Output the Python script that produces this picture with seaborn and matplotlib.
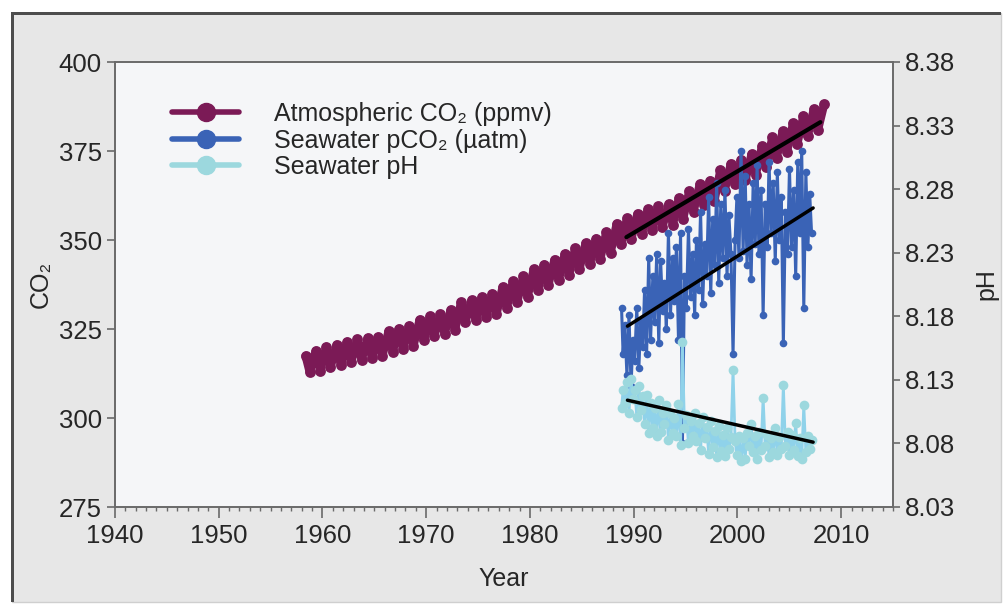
import numpy as np
import pandas as pd
import matplotlib
matplotlib.use("Agg")
import matplotlib.pyplot as plt
import seaborn as sns
from matplotlib.lines import Line2D
from matplotlib.patches import Rectangle
from matplotlib.ticker import MultipleLocator

# ---------------- data ----------------
atm_years = list(range(1958, 2009))
atm_peak = [317.5, 318.9, 320.0, 320.6, 321.4, 322.1, 322.5, 322.8, 324.3, 325.1,
            325.9, 327.6, 328.6, 329.2, 330.4, 332.6, 333.1, 334.0, 334.9, 336.8,
            338.4, 339.8, 341.8, 343.1, 344.5, 346.1, 347.7, 349.1, 350.4, 352.2,
            354.6, 356.1, 357.4, 358.6, 359.5, 360.1, 361.8, 363.8, 365.6, 366.7,
            369.7, 371.4, 372.6, 374.1, 376.3, 378.8, 380.5, 382.8, 384.9, 386.8,
            388.2]
atm_trough = [312.9, 313.3, 314.2, 314.9, 315.7, 316.3, 316.9, 317.4, 318.6, 319.5,
              320.3, 321.8, 322.9, 323.6, 324.7, 326.9, 327.4, 328.3, 329.2, 331.0,
              332.6, 334.0, 336.0, 337.3, 338.7, 340.3, 341.9, 343.3, 344.6, 346.4,
              348.8, 350.3, 351.6, 352.8, 353.7, 354.3, 356.0, 358.0, 359.8, 360.9,
              363.9, 365.6, 366.8, 368.3, 370.5, 373.0, 374.7, 377.0, 379.1, 381.0,
              None]

sea_years = [1988.83, 1988.98, 1989.15, 1989.35, 1989.55, 1989.75, 1989.92,
             1990.10, 1990.30, 1990.50, 1990.68, 1990.88,
             1991.05, 1991.25, 1991.45, 1991.63, 1991.85,
             1992.02, 1992.22, 1992.42, 1992.60, 1992.80, 1992.97,
             1993.15, 1993.35, 1993.55, 1993.75, 1993.93,
             1994.12, 1994.32, 1994.52, 1994.70, 1994.90,
             1995.08, 1995.28, 1995.48, 1995.68, 1995.88,
             1996.05, 1996.25, 1996.45, 1996.65, 1996.85,
             1997.03, 1997.23, 1997.43, 1997.62, 1997.82,
             1998.00, 1998.20, 1998.40, 1998.60, 1998.80,
             1999.00, 1999.18, 1999.38, 1999.58, 1999.78, 1999.95,
             2000.15, 2000.35, 2000.55, 2000.75, 2000.93,
             2001.12, 2001.32, 2001.52, 2001.72, 2001.90,
             2002.08, 2002.28, 2002.48, 2002.68, 2002.88,
             2003.05, 2003.25, 2003.45, 2003.65, 2003.85,
             2004.03, 2004.23, 2004.43, 2004.63, 2004.83,
             2005.02, 2005.22, 2005.42, 2005.62, 2005.82,
             2006.00, 2006.20, 2006.40, 2006.60, 2006.80, 2006.97,
             2007.15]
sea_pco2 = [331, 318, 326, 312, 329, 309, 322,
            316, 331, 314, 327, 320,
            336, 318, 345, 322, 340,
            327, 346, 321, 344, 330, 338,
            325, 352, 329, 345, 333,
            348, 322, 352, 293, 340,
            331, 353, 334, 346, 329,
            350, 336, 358, 332, 349,
            340, 362, 335, 356, 343,
            366, 338, 360, 345, 364,
            340, 357, 346, 318, 350, 362,
            345, 375, 347, 368, 343,
            360, 339, 366, 349, 371,
            346, 364, 329, 360, 348,
            372, 352, 366, 344, 369,
            350, 362, 321, 358, 346,
            370, 348, 364, 340, 372,
            352, 375, 331, 369, 348, 363,
            352]
sea_ph = [8.108, 8.122, 8.112, 8.128, 8.104, 8.131, 8.115,
          8.122, 8.101, 8.125, 8.106, 8.117,
          8.095, 8.118, 8.088, 8.112, 8.092,
          8.108, 8.086, 8.114, 8.089, 8.104, 8.095,
          8.110, 8.083, 8.104, 8.088, 8.100,
          8.086, 8.111, 8.079, 8.160, 8.092,
          8.102, 8.080, 8.098, 8.086, 8.104,
          8.082, 8.096, 8.075, 8.101, 8.084,
          8.093, 8.072, 8.098, 8.077, 8.090,
          8.069, 8.094, 8.074, 8.087, 8.070,
          8.092, 8.076, 8.085, 8.138, 8.082, 8.071,
          8.086, 8.066, 8.084, 8.068, 8.088,
          8.078, 8.095, 8.073, 8.086, 8.068,
          8.089, 8.075, 8.116, 8.078, 8.087,
          8.069, 8.084, 8.073, 8.092, 8.071,
          8.085, 8.076, 8.126, 8.078, 8.089,
          8.071, 8.087, 8.075, 8.096, 8.070,
          8.084, 8.068, 8.110, 8.073, 8.086, 8.076,
          8.083]

trend_atm_years = [1989.3, 2008.0]
trend_atm = [350.8, 383.1]
trend_sea_years = [1989.4, 2007.3]
trend_pco2 = [325.8, 359.0]
trend_ph = [8.114, 8.081]

co2_ticks = [275, 300, 325, 350, 375, 400]
ph_ticks = [8.03, 8.08, 8.13, 8.18, 8.23, 8.28, 8.33, 8.38]
year_ticks = [1940, 1950, 1960, 1970, 1980, 1990, 2000, 2010]

labels = ["Atmospheric CO\u2082 (ppmv)", "Seawater pCO\u2082 (\u00b5atm)", "Seawater pH"]

# ---------------- build tables ----------------
atm_x, atm_y = [], []
for yr, pk, tr in zip(atm_years, atm_peak, atm_trough):
    atm_x.append(yr + 0.37); atm_y.append(pk)
    if tr is not None:
        atm_x.append(yr + 0.77); atm_y.append(tr)
atm_df = pd.DataFrame({"year": atm_x, "co2": atm_y})
sea_df = pd.DataFrame({"year": sea_years, "pco2": sea_pco2, "ph": sea_ph})

# ---------------- style ----------------
sns.set_theme(style="ticks")
plt.rcParams["font.family"] = ["Liberation Sans", "DejaVu Sans"]

C_ATM = "#7b1a56"
C_PCO2 = "#3a63b6"
C_PH = "#9cd8de"
C_PH_LINE = "#8fd2ea"

fig = plt.figure(figsize=(10.07, 6.07), dpi=100)
fig.patch.set_facecolor("white")
W, H = 1007, 607
def fr(x0, y0, x1, y1, **kw):
    return Rectangle((x0 / W, 1 - y1 / H), (x1 - x0) / W, (y1 - y0) / H,
                     transform=fig.transFigure, **kw)
fig.patches.append(fr(12, 13, 1001, 602, facecolor="#e7e7e7", edgecolor="#cfcfcf", lw=1, zorder=-10))
fig.patches.append(fr(11, 12, 14, 602, facecolor="#4d4d4d", edgecolor="none", zorder=-9))
fig.patches.append(fr(11, 12, 1001, 15, facecolor="#4d4d4d", edgecolor="none", zorder=-9))

ax = fig.add_axes([115 / W, 1 - 507 / H, (893 - 115) / W, (507 - 62) / H])
ax.set_facecolor("#f5f6f8")
ax2 = ax.twinx()

sns.lineplot(data=atm_df, x="year", y="co2", ax=ax, color=C_ATM, marker="o",
             markersize=7.8, markeredgewidth=0, linewidth=6)
sns.lineplot(data=sea_df, x="year", y="pco2", ax=ax, color=C_PCO2, marker="o",
             markersize=5.5, markeredgewidth=0, linewidth=2.2)
sns.lineplot(data=sea_df, x="year", y="ph", ax=ax2, color=C_PH_LINE, marker="o",
             markersize=7, markerfacecolor=C_PH, markeredgewidth=0, linewidth=2.0)

sns.lineplot(x=trend_atm_years, y=trend_atm, ax=ax, color="black", linewidth=3)
sns.lineplot(x=trend_sea_years, y=trend_pco2, ax=ax, color="black", linewidth=2.5)
sns.lineplot(x=trend_sea_years, y=trend_ph, ax=ax2, color="black", linewidth=2.5)

ax.set_xlim(1940, 2015)
ax.set_ylim(275, 400)
ax2.set_ylim(8.03, 8.38)
ax.set_xticks(year_ticks)
ax.xaxis.set_minor_locator(MultipleLocator(1))
ax.set_yticks(co2_ticks)
ax2.set_yticks(ph_ticks)
ax2.set_yticklabels([f"{v:.2f}" for v in ph_ticks])

ax.set_xlabel("Year", fontsize=18, labelpad=14)
ax.set_ylabel("CO\u2082", fontsize=18, labelpad=4)
ax2.set_ylabel("pH", fontsize=18, labelpad=14, rotation=90)

for a in (ax, ax2):
    for s in a.spines.values():
        s.set_color("#6a6a6a")
        s.set_linewidth(1.2)
ax.tick_params(axis="x", which="major", labelsize=18.5, length=8, width=1.2, color="#6a6a6a", pad=4)
ax.tick_params(axis="x", which="minor", length=3, width=1, color="#6a6a6a")
ax.tick_params(axis="y", labelsize=18.5, length=6, width=1.2, color="#6a6a6a")
ax2.tick_params(axis="y", labelsize=18.5, length=5, width=1.2, color="#6a6a6a")

handles = [Line2D([], [], color=C_ATM, marker="o", markersize=13, lw=4),
           Line2D([], [], color=C_PCO2, marker="o", markersize=13, lw=4),
           Line2D([], [], color=C_PH, marker="o", markersize=13, lw=4)]
leg = ax.legend(handles, labels, loc="upper left", bbox_to_anchor=(0.073, 0.91),
                frameon=False, fontsize=18, handlelength=2.7, handletextpad=1.4,
                labelspacing=0.1, borderpad=0, borderaxespad=0)

fig.savefig("out.png", dpi=100, facecolor=fig.get_facecolor())
